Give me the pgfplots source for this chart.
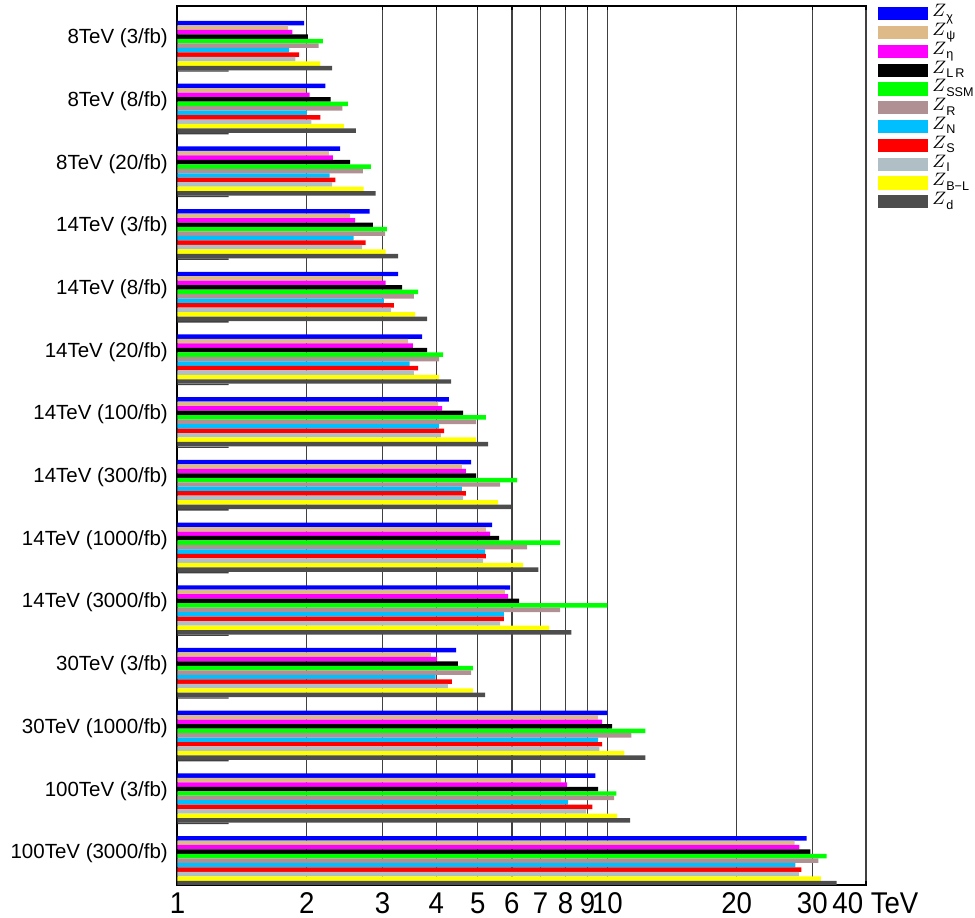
\documentclass[border=0pt]{standalone}
\usepackage{pgfplots}
\pgfplotsset{compat=1.18}
\usepackage{pgfplotstable}
\usepackage{fontspec}
\setmainfont{Liberation Sans}
\newfontfamily\tickfont[FakeStretch=0.92]{Liberation Sans}
\newcommand\Zs[1]{$Z$\raisebox{-2.2pt}{\fontsize{6.3}{7}\selectfont #1}}
\definecolor{cchi}{RGB}{0,0,255}
\definecolor{cpsi}{RGB}{222,186,136}
\definecolor{ceta}{RGB}{255,0,255}
\definecolor{clr}{RGB}{0,0,0}
\definecolor{cssm}{RGB}{0,255,0}
\definecolor{cr}{RGB}{176,144,146}
\definecolor{cn}{RGB}{0,191,255}
\definecolor{cs}{RGB}{255,0,0}
\definecolor{ci}{RGB}{176,190,197}
\definecolor{cbl}{RGB}{255,255,0}
\definecolor{cd}{RGB}{77,77,77}

\pgfplotstableread{
y  chi   psi   eta   LR    SSM   R     N     S     I     BL    d     stub
14 1.97  1.81  1.85  2.01  2.18  2.13  1.82  1.92  1.88  2.15  2.29  1.315
13 2.21  1.99  2.03  2.27  2.49  2.42  2.00  2.15  2.05  2.44  2.60  1.315
12 2.39  2.25  2.30  2.52  2.82  2.70  2.26  2.33  2.29  2.71  2.89  1.315
11 2.80  2.52  2.59  2.85  3.07  3.04  2.57  2.74  2.69  3.05  3.26  1.315
10 3.26  2.99  3.05  3.33  3.63  3.55  3.02  3.19  3.14  3.57  3.81  1.315
9  3.71  3.44  3.53  3.81  4.15  4.06  3.47  3.63  3.55  4.06  4.33  1.315
8  4.28  4.04  4.13  4.62  5.22  4.95  4.06  4.17  4.10  4.95  5.28  1.315
7  4.82  4.59  4.69  4.95  6.17  5.63  4.59  4.69  4.62  5.57  5.97  1.315
6  5.40  5.22  5.34  5.60  7.77  6.51  5.20  5.22  5.14  6.37  6.91  1.315
5  5.94  5.78  5.88  6.24  10.0  7.77  5.75  5.75  5.63  7.32  8.25  1.315
4  4.45  3.89  4.02  4.49  4.87  4.82  3.99  4.35  4.26  4.87  5.20  1.315
3  10.0  9.52  9.73  10.27 12.27 11.38 9.52  9.73  9.58  10.96 12.27 1.315
2  9.38  7.81  8.07  9.52  10.5  10.38 8.11  9.23  8.93  10.55 11.31 1.315
1  29.1  27.3  28.0  29.7  32.4  31.0  27.4  28.3  27.9  31.4  34.2  1.315
}\data

\begin{document}
\begin{tikzpicture}
\path[use as bounding box] (-88.75pt,-16.25pt) rectangle (398.75pt,442.25pt);
\begin{axis}[
  scale only axis,
  width=344.25pt, height=439.25pt,
  xmode=log,
  xmin=1, xmax=40,
  ymin=0.62, ymax=14.632,
  axis line style={line width=1pt, black},
  xtick={1,2,3,4,5,6,7,8,9,10,20,30},
  xticklabels={1,2,3,4,5,6,7,8,9,10,20,30},
  extra x ticks={40},
  extra x tick labels={40 TeV},
  extra x tick style={xticklabel style={anchor=north west, xshift=-20.3pt}},
  xticklabel style={font=\tickfont\fontsize{15}{15}\selectfont, yshift=-0.5pt},
  xtick pos=both,
  tick align=inside,
  major tick length=2pt,
  xtick style={black, line width=0.6pt},
  xmajorgrids,
  major grid style={black!75, line width=0.6pt},
  ytick={1,...,14},
  yticklabels={100TeV (3000/fb),100TeV (3/fb),30TeV (1000/fb),30TeV (3/fb),14TeV (3000/fb),14TeV (1000/fb),14TeV (300/fb),14TeV (100/fb),14TeV (20/fb),14TeV (8/fb),14TeV (3/fb),8TeV (20/fb),8TeV (8/fb),8TeV (3/fb)},
  yticklabel style={font=\fontsize{10.25}{11}\selectfont, yshift=3.6pt, xshift=-1.3pt},
  ytick style={draw=none},
  legend image code/.code={\fill[#1] (0pt,-3.3pt) rectangle (25pt,3.3pt);},
  legend style={at={(1,1)}, anchor=north west, xshift=6pt, yshift=1pt, draw=none, fill=none,
    inner sep=0pt, row sep=0pt, column sep=2pt,
    font=\fontsize{9.5}{10}\selectfont,
    nodes={inner sep=0pt, text height=6.2pt, text depth=3.2pt}},
  legend cell align=left,
  every axis plot/.append style={draw=none, bar width=2.24pt},
]
\addplot[xbar, bar shift=11.2pt,  fill=cchi] table[x=chi, y=y] {\data};
\addplot[xbar, bar shift=8.96pt,  fill=cpsi] table[x=psi, y=y] {\data};
\addplot[xbar, bar shift=6.72pt,  fill=ceta] table[x=eta, y=y] {\data};
\addplot[xbar, bar shift=4.48pt,  fill=clr]  table[x=LR,  y=y] {\data};
\addplot[xbar, bar shift=2.24pt,  fill=cssm] table[x=SSM, y=y] {\data};
\addplot[xbar, bar shift=0pt,     fill=cr]   table[x=R,   y=y] {\data};
\addplot[xbar, bar shift=-2.24pt, fill=cn]   table[x=N,   y=y] {\data};
\addplot[xbar, bar shift=-4.48pt, fill=cs]   table[x=S,   y=y] {\data};
\addplot[xbar, bar shift=-6.72pt, fill=ci]   table[x=I,   y=y] {\data};
\addplot[xbar, bar shift=-8.96pt, fill=cbl]  table[x=BL,  y=y] {\data};
\addplot[xbar, bar shift=-11.2pt, fill=cd]   table[x=d,   y=y] {\data};
\addplot[xbar, bar shift=-12.7pt, bar width=0.7pt, fill=black!75, forget plot] table[x=stub, y=y] {\data};
\legend{\Zs{χ},\Zs{ψ},\Zs{η},\Zs{L\,R},\Zs{SSM},\Zs{R},\Zs{N},\Zs{S},\Zs{I},\Zs{B−L},\Zs{d}}
\end{axis}
\end{tikzpicture}
\end{document}
